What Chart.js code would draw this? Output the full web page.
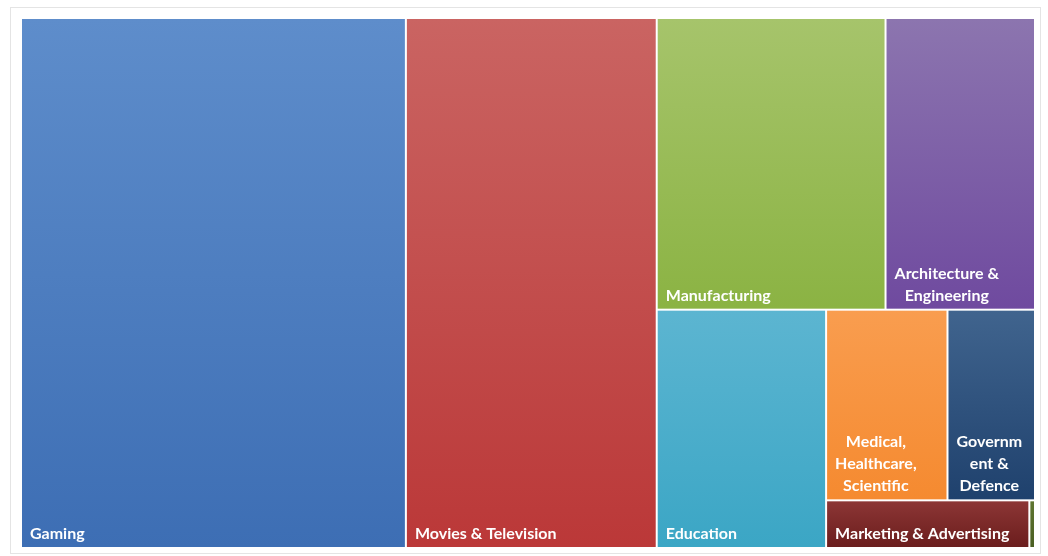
<!DOCTYPE html>
<html>
<head>
<meta charset="utf-8">
<script src="https://cdn.jsdelivr.net/npm/chart.js@4.4.1/dist/chart.umd.min.js"></script>
<style>
  html, body { margin: 0; padding: 0; background: #ffffff; }
  #wrap { position: relative; width: 1048px; height: 556px; }
</style>
</head>
<body>
<div id="wrap"><canvas id="chart"></canvas></div>
<script>
// ---- data (share in %) ----
const categories = [
  "Gaming",
  "Movies & Television",
  "Manufacturing",
  "Architecture & Engineering",
  "Education",
  "Medical, Healthcare, Scientific",
  "Government & Defence",
  "Marketing & Advertising",
  "Other"
];
const values = [37.9, 24.7, 12.4, 8.1, 7.5, 4.3, 3.1, 1.8, 0.05];

// ---- styles ----
const topColors    = ["#5E8DCB", "#CA6462", "#A6C46B", "#8C75AF", "#5CB5D1", "#F99D4F", "#40648E", "#8C3635", "#5F7530"];
const bottomColors = ["#3D6EB4", "#BB3838", "#8BB343", "#6F4A9F", "#3BA6C5", "#F58A30", "#1F416D", "#6B1D1D", "#4A5E22"];

// virtual layout space (scale units)
const VW = 210, VH = 100;

// standard squarified treemap layout in scale units
function squarify(vals, x0, y0, x1, y1) {
  const rects = [];
  let remaining = vals.reduce((a, b) => a + b, 0);
  let i0 = 0;
  while (i0 < vals.length) {
    const dx = x1 - x0, dy = y1 - y0;
    const k = (dx * dy) / remaining;
    const side = Math.min(dx, dy);
    const worst = (s, mn, mx) => {
      const t = s * k / side;
      const lmax = mx * k / t, lmin = mn * k / t;
      return Math.max(lmax / t, t / lmax, lmin / t, t / lmin);
    };
    let sum = vals[i0], mn = sum, mx = sum, i1 = i0 + 1;
    let best = worst(sum, mn, mx);
    while (i1 < vals.length) {
      const v = vals[i1];
      const nmn = Math.min(mn, v), nmx = Math.max(mx, v);
      const w = worst(sum + v, nmn, nmx);
      if (w > best) break;
      best = w; sum += v; mn = nmn; mx = nmx; i1++;
    }
    const t = sum * k / side;
    if (dx >= dy) {
      let yy = y0;
      for (let i = i0; i < i1; i++) {
        const h = vals[i] * k / t;
        rects[i] = { x0: x0, x1: x0 + t, y0: yy, y1: yy + h };
        yy += h;
      }
      x0 += t;
    } else {
      let xx = x0;
      for (let i = i0; i < i1; i++) {
        const w = vals[i] * k / t;
        rects[i] = { x0: xx, x1: xx + w, y0: y0, y1: y0 + t };
        xx += w;
      }
      y0 += t;
    }
    remaining -= sum;
    i0 = i1;
  }
  return rects;
}

function wrapText(ctx, text, maxW) {
  const words = text.split(' ');
  const lines = [];
  let cur = '';
  for (const word of words) {
    const cand = cur ? cur + ' ' + word : word;
    if (ctx.measureText(cand).width <= maxW) { cur = cand; continue; }
    if (cur) { lines.push(cur); cur = ''; }
    if (ctx.measureText(word).width <= maxW) { cur = word; continue; }
    // break long word by characters
    let piece = '';
    for (const ch of word) {
      if (ctx.measureText(piece + ch).width <= maxW) piece += ch;
      else { if (piece) lines.push(piece); piece = ch; }
    }
    cur = piece;
  }
  if (cur) lines.push(cur);
  return lines;
}

const treemapPlugin = {
  id: 'treemapCells',
  beforeDraw(chart) {
    const c = chart.ctx, a = chart.chartArea;
    c.save();
    c.strokeStyle = '#E4E4E4';
    c.lineWidth = 1;
    c.strokeRect(a.left - 10.5, a.top - 10.5, (a.right - a.left) + 16, (a.bottom - a.top) + 16);
    c.restore();
  },
  afterDatasetsDraw(chart, args, opts) {
    const c = chart.ctx;
    const xs = chart.scales.x, ys = chart.scales.y;
    const rects = squarify(opts.values, 0, 0, VW, VH);
    c.save();
    rects.forEach((r, i) => {
      const L = xs.getPixelForValue(r.x0) + 1;
      const R = xs.getPixelForValue(r.x1) - 1;
      const T = ys.getPixelForValue(r.y0) + 1;
      const B = ys.getPixelForValue(r.y1) - 1;
      if (R - L <= 0 || B - T <= 0) return;
      const g = c.createLinearGradient(0, T, 0, B);
      g.addColorStop(0, opts.topColors[i]);
      g.addColorStop(1, opts.bottomColors[i]);
      c.fillStyle = g;
      c.fillRect(L, T, R - L, B - T);

      // label
      c.font = opts.font;
      const pad = 8;
      const maxW = (R - L) - 2 * pad;
      if (maxW < 20) return;
      const lines = wrapText(c, opts.labels[i], maxW);
      const lh = 22;
      if (lines.length * lh + 6 > (B - T)) return;
      const blockW = Math.max(...lines.map(s => c.measureText(s).width));
      const cx = L + pad + blockW / 2;
      c.fillStyle = '#FFFFFF';
      c.textAlign = 'center';
      c.textBaseline = 'middle';
      lines.forEach((s, j) => {
        const y = B - 13 - (lines.length - 1 - j) * lh;
        c.fillText(s, cx, y);
      });
    });
    c.restore();
  }
};

new Chart(document.getElementById('chart'), {
  type: 'scatter',
  data: { datasets: [{ label: 'Share', data: [] }] },
  options: {
    responsive: true,
    maintainAspectRatio: false,
    animation: false,
    layout: { padding: { left: 21, right: 13, top: 18, bottom: 8 } },
    scales: {
      x: { type: 'linear', min: 0, max: VW, display: false },
      y: { type: 'linear', min: 0, max: VH, reverse: true, display: false }
    },
    plugins: {
      legend: { display: false },
      tooltip: { enabled: false },
      treemapCells: {
        values: values,
        labels: categories,
        topColors: topColors,
        bottomColors: bottomColors,
        font: 'bold 16px Lato'
      }
    }
  },
  plugins: [treemapPlugin]
});
</script>
</body>
</html>
